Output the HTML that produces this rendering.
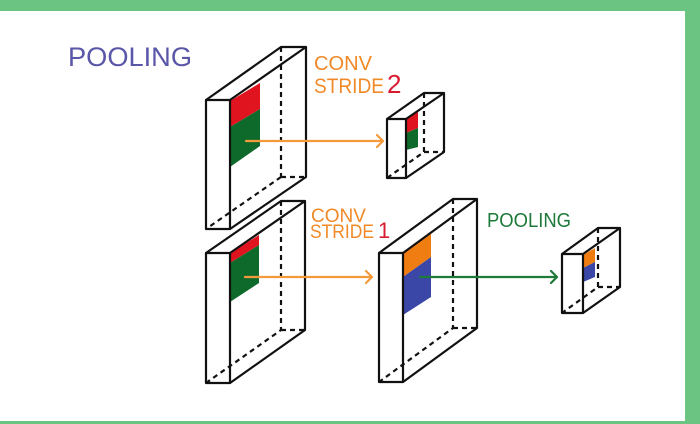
<!DOCTYPE html>
<html><head><meta charset="utf-8"><style>
html,body{margin:0;padding:0;background:#6cc483;}
svg{display:block}
</style></head><body>
<svg width="700" height="424" viewBox="0 0 700 424" xmlns="http://www.w3.org/2000/svg">
<rect x="0" y="0" width="700" height="424" fill="#6cc483"/>
<rect x="0" y="11" width="685" height="410" fill="#ffffff"/>
<g font-family="Liberation Sans, sans-serif">
<text x="68" y="66" font-size="27" fill="#5a56a8" textLength="124" lengthAdjust="spacingAndGlyphs">POOLING</text>
<text x="314" y="70" font-size="20" fill="#f08a28" textLength="58" lengthAdjust="spacingAndGlyphs">CONV</text>
<text x="314" y="93" font-size="21" fill="#f08a28" textLength="70" lengthAdjust="spacingAndGlyphs">STRIDE</text>
<text x="387" y="93" font-size="26" fill="#d81b30">2</text>
<text x="311" y="222" font-size="19" fill="#f08a28" textLength="55" lengthAdjust="spacingAndGlyphs">CONV</text>
<text x="310" y="238" font-size="19" fill="#f08a28" textLength="64" lengthAdjust="spacingAndGlyphs">STRIDE</text>
<text x="378" y="238" font-size="22" fill="#d81b30">1</text>
<text x="487" y="227" font-size="20" fill="#1e7a3a" textLength="84" lengthAdjust="spacingAndGlyphs">POOLING</text>
</g>
<!-- patches -->
<polygon points="230,101 260,83 260,109 230,127" fill="#e0141e"/>
<polygon points="230,127 260,109 260,146 230,167" fill="#0e6a2a"/>
<polygon points="406,118 418,112 418,128 406,133" fill="#e0141e"/>
<polygon points="406,133 418,128 418,147 406,150" fill="#0e6a2a"/>
<polygon points="230,253 259,235 259,245 230,263" fill="#e0141e"/>
<polygon points="230,263 259,245 259,283 230,302" fill="#0e6a2a"/>
<polygon points="403,253 431,234 431,257 403,277" fill="#f07d12"/>
<polygon points="403,277 431,257 431,297 403,315" fill="#3b47a6"/>
<polygon points="583,255 595,248 595,262 583,268" fill="#f07d12"/>
<polygon points="583,268 595,262 595,277 583,282" fill="#3b47a6"/>
<g fill="none" stroke="#111" stroke-width="2.2" stroke-linejoin="round">
<!-- box1 -->
<rect x="206" y="100" width="24" height="129"/>
<path d="M206,100 L281,47 L306,47 L230,100 M306,47 L306,177 L230,229"/>
<path d="M281,47 L281,177 M281,177 L206,229 M281,177 L306,177" stroke-dasharray="5,4"/>
<!-- box2 -->
<rect x="387" y="119" width="19" height="59"/>
<path d="M387,119 L424,93 L444,93 L406,119 M444,93 L444,152 L406,178"/>
<path d="M424,93 L424,152 L387,178 M424,152 L444,152" stroke-dasharray="5,4"/>
<!-- box3 -->
<rect x="206" y="253" width="24" height="130"/>
<path d="M206,253 L281,201 L305,201 L230,253 M305,201 L305,330 L230,383"/>
<path d="M281,201 L281,330 L206,383 M281,330 L305,330" stroke-dasharray="5,4"/>
<!-- box4 -->
<rect x="379" y="253" width="24" height="129"/>
<path d="M379,253 L453,199 L477,199 L403,253 M477,199 L477,328 L403,382"/>
<path d="M453,199 L453,328 L379,382 M453,328 L477,328" stroke-dasharray="5,4"/>
<!-- box5 -->
<rect x="562" y="254" width="21" height="59"/>
<path d="M562,254 L598,228 L620,228 L583,254 M620,228 L620,287 L583,313"/>
<path d="M598,228 L598,287 L562,313 M598,287 L620,287" stroke-dasharray="5,4"/>
</g>
<g fill="none" stroke-width="2.2" stroke-linecap="round" stroke-linejoin="round">
<path d="M246,141 L383,141 M377,135 L383,141 L377,147" stroke="#f39a3c"/>
<path d="M245,277 L372,277 M366,271 L372,277 L366,283" stroke="#f39a3c"/>
<path d="M420,277 L557,277 M551,271 L557,277 L551,283" stroke="#1e7a3a"/>
</g>
</svg>
</body></html>
